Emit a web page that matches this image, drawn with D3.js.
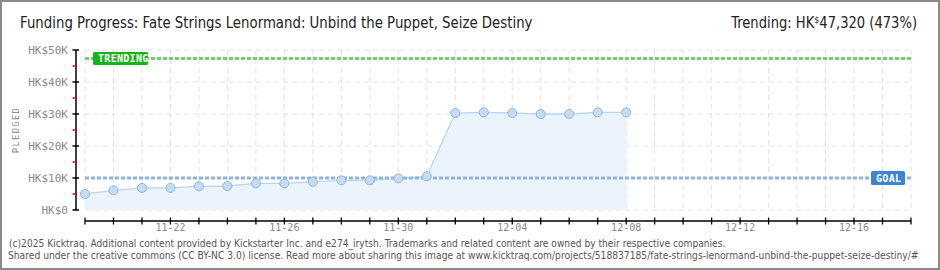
<!DOCTYPE html>
<html><head><meta charset="utf-8">
<script src="https://cdn.jsdelivr.net/npm/d3@7/dist/d3.min.js"></script>
<style>body{margin:0;background:#fff}svg{display:block}</style>
</head><body>
<svg id="c" width="940" height="270"></svg>
<script>
const dates = ["2025-11-19","2025-11-20","2025-11-21","2025-11-22","2025-11-23","2025-11-24","2025-11-25","2025-11-26","2025-11-27","2025-11-28","2025-11-29","2025-11-30","2025-12-01","2025-12-02","2025-12-03","2025-12-04","2025-12-05","2025-12-06","2025-12-07","2025-12-08"];
const pledged = [5000,6150,6900,6900,7400,7500,8300,8300,8800,9280,9280,9900,10530,30300,30500,30300,30000,30000,30500,30500];
const goal = 10000;
const trending = 47320;
const yTicks = [0,10000,20000,30000,40000,50000];
const yTickLabels = ["HK$0","HK$10K","HK$20K","HK$30K","HK$40K","HK$50K"];
const xLabelDates = ["2025-11-22","2025-11-26","2025-11-30","2025-12-04","2025-12-08","2025-12-12","2025-12-16"];
const domainDates = ["2025-11-19","2025-12-18"];
const title = "Funding Progress: Fate Strings Lenormand: Unbind the Puppet, Seize Destiny";
const footer1 = "(c)2025 Kicktraq. Additional content provided by Kickstarter Inc. and e274_irytsh. Trademarks and related content are owned by their respective companies.";
const footer2 = "Shared under the creative commons (CC BY-NC 3.0) license. Read more about sharing this image at www.kicktraq.com/projects/518837185/fate-strings-lenormand-unbind-the-puppet-seize-destiny/#";

const parse = d3.utcParse("%Y-%m-%d");
const svg = d3.select("#c");
const pixFont = "'DejaVu Sans Mono', monospace";

const x = d3.scaleUtc().domain(domainDates.map(parse)).range([85, 911]);
const y = d3.scaleLinear().domain([0, 50000]).range([210, 50]);

// frame
svg.append("rect").attr("x",1).attr("y",1).attr("width",938).attr("height",268)
  .attr("fill","#fff").attr("stroke","#8a8a8a").attr("stroke-width",2);

// fitted text helper: draws text in a group, then scales horizontally to width w
function fitText(tx, ty, w, anchor, size, color, build){
  const grp = svg.append("g");
  const t = grp.append("text").attr("x",0).attr("y",0).attr("text-anchor",anchor)
    .attr("font-family","'DejaVu Sans', sans-serif").attr("font-size",size).attr("fill",color);
  build(t);
  const nat = t.node().getComputedTextLength();
  grp.attr("transform", `translate(${tx},${ty}) scale(${w/nat},1)`);
  return grp;
}
fitText(20, 28, 513, "start", 15, "#222", t=>t.text(title));
fitText(917, 28, 186, "end", 15, "#222", t=>{
  t.append("tspan").text("Trending:  HK");
  t.append("tspan").attr("font-size",9).attr("dy",-5).text("$");
  t.append("tspan").attr("dy",5).text(d3.format(",")(trending) + " (" + Math.round(trending/goal*100) + "%)");
});

// grid
const allDays = d3.utcDay.range(parse(domainDates[0]), d3.utcDay.offset(parse(domainDates[1]),1));
const g = svg.append("g");
g.selectAll("line.vg").data(allDays).join("line")
  .attr("x1",d=>x(d)).attr("x2",d=>x(d)).attr("y1",y(50000)).attr("y2",y(0))
  .attr("stroke","#e2e2e2").attr("stroke-dasharray","5,4");
g.selectAll("line.hg").data(yTicks).join("line")
  .attr("x1",x.range()[0]).attr("x2",x.range()[1]).attr("y1",d=>y(d)).attr("y2",d=>y(d))
  .attr("stroke","#e2e2e2").attr("stroke-dasharray","5,4");

// area + line
const pts = dates.map((d,i)=>({d:parse(d), v:pledged[i]}));
svg.append("path").datum(pts)
  .attr("d", d3.area().x(p=>x(p.d)).y0(y(0)).y1(p=>y(p.v)))
  .attr("fill","#ebf3fc");
svg.append("path").datum(pts)
  .attr("d", d3.line().x(p=>x(p.d)).y(p=>y(p.v)))
  .attr("fill","none").attr("stroke","#b9d5f2").attr("stroke-width",1.3);

// goal line
svg.append("line").attr("x1",x.range()[0]).attr("x2",x.range()[1]).attr("y1",y(goal)).attr("y2",y(goal))
  .attr("stroke","#8fb2df").attr("stroke-width",3).attr("stroke-dasharray","4,2");
// trending line
svg.append("line").attr("x1",x.range()[0]).attr("x2",x.range()[1]).attr("y1",y(trending)).attr("y2",y(trending))
  .attr("stroke","#6fcf6f").attr("stroke-width",3).attr("stroke-dasharray","4,2");

// points
svg.selectAll("circle.pt").data(pts).join("circle")
  .attr("cx",p=>x(p.d)).attr("cy",p=>y(p.v)).attr("r",4.5)
  .attr("fill","#c4dcf6").attr("stroke","#94b4da").attr("stroke-width",1);

// badges
function badge(bx, by, w, h, fill, label){
  svg.append("rect").attr("x",bx).attr("y",by).attr("width",w).attr("height",h).attr("rx",1.5)
    .attr("fill",fill);
  svg.append("text").attr("x",bx+5).attr("y",by+h/2+3.5).attr("font-family",pixFont)
    .attr("font-size",10).attr("font-weight","bold").attr("fill","#fff").attr("letter-spacing",0.3).text(label);
}
badge(93, y(trending)-6.5, 55, 13, "#16b416", "TRENDING");
badge(871, y(goal)-7, 34, 14, "#3a86d2", "GOAL");

// y axis
const ya = svg.append("g");
ya.append("line").attr("x1",76).attr("x2",76).attr("y1",y(50000)).attr("y2",y(0)).attr("stroke","#000").attr("stroke-width",1.5);
ya.selectAll("line.mj").data(yTicks).join("line")
  .attr("x1",72.5).attr("x2",79).attr("y1",d=>y(d)).attr("y2",d=>y(d)).attr("stroke","#000").attr("stroke-width",1.5);
ya.selectAll("line.mn").data(yTicks.slice(0,-1).map(d=>d+5000)).join("line")
  .attr("x1",72.5).attr("x2",75).attr("y1",d=>y(d)).attr("y2",d=>y(d)).attr("stroke","#e00").attr("stroke-width",1.5);
ya.selectAll("text").data(yTicks).join("text")
  .attr("x",68).attr("y",d=>y(d)+4).attr("text-anchor","end")
  .attr("font-family",pixFont).attr("font-size",11).attr("fill","#8a8a8a")
  .text((d,i)=>yTickLabels[i]);
svg.append("text").attr("transform","translate(19,130) rotate(-90)").attr("text-anchor","middle")
  .attr("font-family",pixFont).attr("font-size",9).attr("fill","#8a8a8a").attr("letter-spacing",1.2).text("PLEDGED");

// x axis
const xa = svg.append("g");
xa.append("line").attr("x1",x.range()[0]).attr("x2",x.range()[1]).attr("y1",221).attr("y2",221).attr("stroke","#000").attr("stroke-width",1.5);
xa.selectAll("line.t").data(allDays).join("line")
  .attr("x1",d=>x(d)).attr("x2",d=>x(d)).attr("y1",217.5).attr("y2",224.5).attr("stroke","#000").attr("stroke-width",1.3);
const fmt = d3.utcFormat("%m-%d");
xa.selectAll("text").data(xLabelDates.map(parse)).join("text")
  .attr("x",d=>x(d)).attr("y",231).attr("text-anchor","middle")
  .attr("font-family",pixFont).attr("font-size",10).attr("fill","#8a8a8a").text(d=>fmt(d));

// footer
fitText(9, 247, 717, "start", 10, "#555", t=>t.text(footer1));
fitText(8, 259, 912, "start", 10, "#555", t=>t.text(footer2));
</script>
</body></html>
